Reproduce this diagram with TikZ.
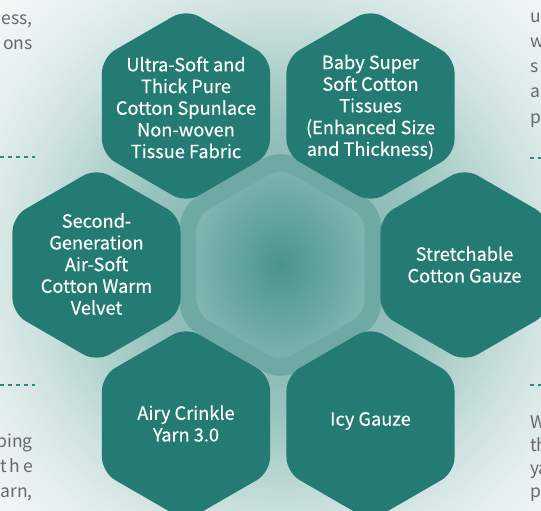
\documentclass[tikz,border=0pt]{standalone}
\usepackage{fontspec}
\newfontfamily\hexfont[FakeBold=0.3]{Noto Sans CJK SC}
\newfontfamily\sidefont{Noto Sans CJK SC}
\usetikzlibrary{calc}
\definecolor{hexcol}{HTML}{247B73}
\definecolor{bandcol}{HTML}{6FA9A3}
\definecolor{cin}{HTML}{4A948E}
\definecolor{cout}{HTML}{8ABBB6}
\definecolor{bga}{HTML}{6FA9A3}
\definecolor{bgb}{HTML}{99C3BE}
\definecolor{bgc}{HTML}{D0E3E0}
\definecolor{bgd}{HTML}{E8F1F0}
\definecolor{bge}{HTML}{F6FAF9}
\definecolor{sidegray}{HTML}{686868}
\definecolor{dashcol}{HTML}{2E8A81}
\pgfdeclareradialshading{centershade}{\pgfpoint{0bp}{0bp}}{color(0bp)=(cin); color(31bp)=(cout); color(75bp)=(cout)}
\tikzset{
  hexa/.style={insert path={+(0:{0.8660*#1}) -- +(30:#1) -- +(90:#1) -- +(150:#1) -- +(210:#1) -- +(270:#1) -- +(330:#1) -- cycle}},
  hexfill/.style={fill=hexcol, rounded corners=15pt},
  hextext/.style={font=\hexfont\fontsize{18.2}{21.7}\selectfont, text=white, align=center, inner sep=0pt},
  sidetext/.style={font=\sidefont\fontsize{17.5}{25}\selectfont, text=sidegray, inner sep=0pt},
  sidedash/.style={draw=dashcol, line width=1.2pt, dash pattern=on 4pt off 4pt}
}
\begin{document}
\begin{tikzpicture}[x=1pt,y=-1pt]
\useasboundingbox (0,0) rectangle (541,511);
\coordinate (c0) at (280.5,265);
% background: stepped radial gradient
\begin{scope}
\clip (0,0) rectangle (541,511);
\foreach \r in {400,397,...,331}{\pgfmathsetmacro\pp{(400-\r)/70*100}\fill[bgd!\pp!bge] (c0) circle (\r);}
\foreach \r in {330,327,...,261}{\pgfmathsetmacro\pp{(330-\r)/70*100}\fill[bgc!\pp!bgd] (c0) circle (\r);}
\foreach \r in {260,257,...,151}{\pgfmathsetmacro\pp{(260-\r)/110*100}\fill[bgb!\pp!bgc] (c0) circle (\r);}
\foreach \r in {150,146,...,2}{\pgfmathsetmacro\pp{(150-\r)/150*100}\fill[bga!\pp!bgb] (c0) circle (\r);}
\end{scope}
% centre hexagon
\fill[fill=bandcol, rounded corners=18pt] (c0) [hexa=116];
\shade[shading=centershade, rounded corners=14pt] (c0) [hexa=97];
% outer hexagons
\coordinate (p1) at (186,106);
\coordinate (p2) at (370.5,106);
\coordinate (p3) at (96.5,265);
\coordinate (p4) at (464.5,265);
\coordinate (p5) at (186,424);
\coordinate (p6) at (370.5,424);
\foreach \p in {p1,p2,p3,p4,p5,p6}{\fill[hexfill] (\p) [hexa=97];}
\node[hextext] (t1) at ($(p1)+(0,1.5)$) {Ultra-Soft and\\Thick Pure\\Cotton Spunlace\\Non-woven\\Tissue Fabric};
\node[hextext] (t2) at ($(p2)+(0,1)$) {Baby Super\\Soft Cotton\\Tissues\\(Enhanced Size\\and Thickness)};
\node[hextext] (t3) at ($(p3)+(0,-1)$) {Second-\\Generation\\Air-Soft\\Cotton Warm\\Velvet};
\node[hextext] (t4) at ($(p4)+(0,-0.5)$) {Stretchable\\Cotton Gauze};
\node[hextext] (t5) at ($(p5)+(0,-0.5)$) {Airy Crinkle\\Yarn 3.0};
\node[hextext] (t6) at ($(p6)+(0,-3)$) {Icy Gauze};
% side text fragments
\node[sidetext, anchor=base east] (s1) at (33,25) {ess,};
\node[sidetext, anchor=base east] (s2) at (33,50) {ons};
\node[sidetext, anchor=base east] (s3) at (33,447) {ping};
\node[sidetext, anchor=base east] (s4) at (33,472) {t\hspace{2.5pt}h\hspace{2.5pt}e};
\node[sidetext, anchor=base east] (s5) at (33,497) {arn,};
\node[sidetext, anchor=base west] (r1) at (530,23) {u};
\node[sidetext, anchor=base west] (r2) at (530,48) {w};
\node[sidetext, anchor=base west] (r3) at (530,73) {s};
\node[sidetext, anchor=base west] (r4) at (530,98) {a};
\node[sidetext, anchor=base west] (r5) at (530,123) {p};
\node[sidetext, anchor=base west] (r6) at (530,428) {W};
\node[sidetext, anchor=base west] (r7) at (530,451) {th};
\node[sidetext, anchor=base west] (r8) at (530,474) {ya};
\node[sidetext, anchor=base west] (r9) at (530,497) {p};
% dashed rules
\coordinate (d1a) at (0,157); \coordinate (d1b) at (35,157);
\coordinate (d2a) at (0,385); \coordinate (d2b) at (35,385);
\coordinate (d3a) at (530,158); \coordinate (d3b) at (541,158);
\coordinate (d4a) at (530,385); \coordinate (d4b) at (541,385);
\draw[sidedash] (d1a) -- (d1b);
\draw[sidedash] (d2a) -- (d2b);
\draw[sidedash] (d3a) -- (d3b);
\draw[sidedash] (d4a) -- (d4b);
\end{tikzpicture}
\end{document}
